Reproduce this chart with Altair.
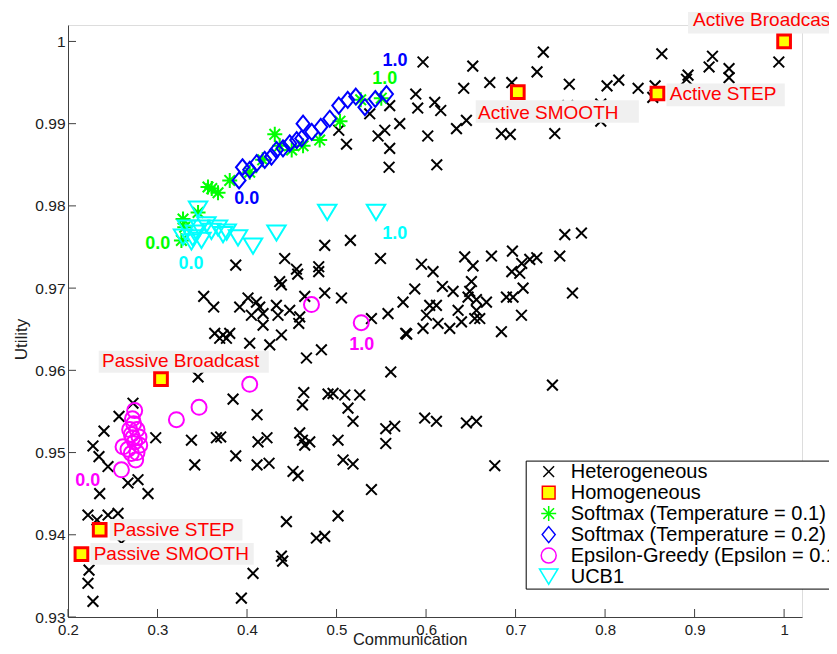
import altair as alt
import pandas as pd

SERIES = ["Heterogeneous", "Homogeneous", "Softmax (Temperature = 0.1)",
          "Softmax (Temperature = 0.2)", "Epsilon-Greedy (Epsilon = 0.1)", "UCB1"]

# ---------------- data ----------------
het_x = [0.5966, 0.6522, 0.7310, 0.7240, 0.6712, 0.6958, 0.6421, 0.7600, 0.8022, 0.8153,
         0.8369, 0.8559, 0.8634, 0.8927, 0.8910, 0.9200, 0.9162, 0.9385, 0.9385, 0.9941,
         0.6097, 0.6164, 0.6451, 0.6340, 0.6019, 0.6842, 0.6941, 0.7438, 0.6120, 0.5885,
         0.5907, 0.5594, 0.5371, 0.5706, 0.5539, 0.5464, 0.5594, 0.5587, 0.5111, 0.5025,
         0.7583, 0.7952, 0.7952, 0.8533,
         0.4868, 0.3874, 0.4421, 0.4552, 0.4566, 0.4801, 0.4801, 0.4365, 0.4384, 0.3516,
         0.4645, 0.4868, 0.4011, 0.4105, 0.3628, 0.3918, 0.4142, 0.4328, 0.4477, 0.4049,
         0.4179, 0.4346, 0.4589, 0.4179, 0.4578, 0.3639, 0.3732, 0.3807, 0.4384, 0.3695,
         0.3770, 0.4030, 0.4254, 0.4831, 0.4664,
         0.3453, 0.3844, 0.4112, 0.4634, 0.4619, 0.4905, 0.2570, 0.2726, 0.2402, 0.2279,
         0.2346, 0.2447, 0.2980, 0.3379, 0.3658, 0.3706, 0.3874, 0.3416, 0.4112, 0.4123,
         0.4223, 0.4246, 0.4589, 0.4619, 0.4645, 0.4701, 0.4514, 0.4570, 0.2670, 0.2782,
         0.2354, 0.2894, 0.2223, 0.2324, 0.2447, 0.2559, 0.4440, 0.4775, 0.4868, 0.2597,
         0.2235, 0.2223, 0.2279, 0.4067, 0.4384, 0.4399, 0.3937,
         0.5155, 0.5491, 0.5949, 0.6078, 0.6432, 0.6525, 0.6731, 0.6965, 0.7159, 0.7237,
         0.7069, 0.6958, 0.7047, 0.7494, 0.7550, 0.7736, 0.7636, 0.7084, 0.6972, 0.6898,
         0.7066, 0.6842, 0.6507, 0.6488, 0.6469, 0.6183, 0.6302, 0.5874, 0.5743, 0.5575,
         0.5390, 0.6041, 0.6116, 0.6005, 0.6134, 0.5966, 0.5773, 0.5784, 0.6265, 0.6396,
         0.6358, 0.6563, 0.6675, 0.6563, 0.6600, 0.6544, 0.5055, 0.5606, 0.7412, 0.4961,
         0.5092, 0.5259, 0.5128, 0.5184, 0.5550, 0.5650, 0.5985, 0.6116, 0.6451, 0.6563,
         0.5017, 0.5550, 0.5073, 0.5184, 0.5390, 0.5017, 0.6768]
het_y = [0.9975, 0.9970, 0.9987, 0.9963, 0.9950, 0.9950, 0.9943, 0.9948, 0.9946, 0.9953,
         0.9943, 0.9946, 0.9985, 0.9959, 0.9954, 0.9982, 0.9969, 0.9967, 0.9956, 0.9975,
         0.9926, 0.9916, 0.9904, 0.9894, 0.9885, 0.9888, 0.9887, 0.9888, 0.9850, 0.9936,
         0.9919, 0.9922, 0.9912, 0.9900, 0.9892, 0.9885, 0.9870, 0.9847, 0.9875, 0.9892,
         0.9922, 0.9924, 0.9903, 0.9932,
         0.9752, 0.9728, 0.9736, 0.9723, 0.9717, 0.9726, 0.9720, 0.9708, 0.9704, 0.9690,
         0.9690, 0.9694, 0.9688, 0.9683, 0.9677, 0.9677, 0.9677, 0.9679, 0.9673, 0.9667,
         0.9669, 0.9667, 0.9665, 0.9655, 0.9657, 0.9645, 0.9643, 0.9645, 0.9643, 0.9639,
         0.9639, 0.9633, 0.9631, 0.9625, 0.9615,
         0.9592, 0.9565, 0.9546, 0.9573, 0.9558, 0.9571, 0.9544, 0.9560, 0.9526, 0.9508,
         0.9495, 0.9483, 0.9518, 0.9515, 0.9518, 0.9519, 0.9496, 0.9485, 0.9485, 0.9513,
         0.9518, 0.9487, 0.9524, 0.9515, 0.9509, 0.9513, 0.9477, 0.9472, 0.9463, 0.9467,
         0.9450, 0.9450, 0.9424, 0.9418, 0.9424, 0.9426, 0.9416, 0.9396, 0.9398, 0.9390,
         0.9357, 0.9341, 0.9319, 0.9353, 0.9374, 0.9368, 0.9323,
         0.9758, 0.9736, 0.9729, 0.9720, 0.9738, 0.9727, 0.9739, 0.9745, 0.9735, 0.9737,
         0.9730, 0.9720, 0.9718, 0.9739, 0.9765, 0.9767, 0.9694, 0.9700, 0.9689, 0.9689,
         0.9667, 0.9647, 0.9708, 0.9696, 0.9689, 0.9702, 0.9696, 0.9699, 0.9683, 0.9669,
         0.9663, 0.9679, 0.9679, 0.9667, 0.9657, 0.9651, 0.9645, 0.9644, 0.9651, 0.9659,
         0.9673, 0.9686, 0.9683, 0.9673, 0.9663, 0.9663, 0.9688, 0.9598, 0.9582, 0.9572,
         0.9570, 0.9570, 0.9554, 0.9538, 0.9529, 0.9532, 0.9542, 0.9538, 0.9536, 0.9538,
         0.9515, 0.9511, 0.9491, 0.9486, 0.9455, 0.9423, 0.9484]

hom_x = [1.0, 0.8585, 0.7025, 0.3039, 0.2354, 0.2150]
hom_y = [1.0, 0.99367, 0.99383, 0.95892, 0.94061, 0.93765]

sm1_x = [0.3267, 0.3285, 0.3304, 0.3453, 0.3564, 0.3606, 0.3676, 0.3807, 0.4030, 0.4310,
         0.4365, 0.4626, 0.4812, 0.5039, 0.5270, 0.5500, 0.4175, 0.4499]
sm1_y = [0.9758, 0.9784, 0.9774, 0.9792, 0.9823, 0.9821, 0.9816, 0.9831, 0.9841, 0.9887,
         0.9873, 0.9873, 0.9880, 0.9903, 0.9929, 0.9931, 0.9856, 0.9868]

sm2_x = [0.3911, 0.3949, 0.4030, 0.4108, 0.4198, 0.4273, 0.4329, 0.4402, 0.4477, 0.4555,
         0.4626, 0.4611, 0.4723, 0.4824, 0.4924, 0.5025, 0.5125, 0.5215, 0.5317, 0.5433, 0.5558]
sm2_y = [0.9831, 0.9847, 0.9844, 0.9852, 0.9856, 0.9860, 0.9868, 0.9870, 0.9876, 0.9880,
         0.9900, 0.9882, 0.9890, 0.9896, 0.9906, 0.9922, 0.9929, 0.9933, 0.9920, 0.9930, 0.9936]

eps_x = [0.2745, 0.2720, 0.2734, 0.2689, 0.2771, 0.2708, 0.2793, 0.2723, 0.2745, 0.2615,
         0.2670, 0.2801, 0.2708, 0.2771, 0.2756, 0.2597, 0.3211, 0.3464, 0.4030, 0.4720, 0.5276]
eps_y = [0.9551, 0.9541, 0.9535, 0.9528, 0.9528, 0.9522, 0.9519, 0.9518, 0.9513, 0.9507,
         0.9504, 0.9509, 0.9499, 0.9500, 0.9491, 0.9479, 0.9540, 0.9555, 0.9583, 0.9680, 0.9658]

ucb_x = [0.3453, 0.3285, 0.3379, 0.3393, 0.3472, 0.3491, 0.3546, 0.3602, 0.3676, 0.3732,
         0.3773, 0.3899, 0.4067, 0.4329, 0.4896, 0.5441, 0.3416, 0.3327]
ucb_y = [0.9796, 0.9762, 0.9756, 0.9761, 0.9773, 0.9758, 0.9777, 0.9769, 0.9773, 0.9765,
         0.9768, 0.9761, 0.9751, 0.9767, 0.9792, 0.9792, 0.9767, 0.9773]

ann_text = ["Active Broadcast", "Active SMOOTH", "Active STEP",
            "Passive Broadcast", "Passive STEP", "Passive SMOOTH"]
ann_x = [0.8983, 0.6581, 0.8723, 0.2380, 0.2503, 0.2287]
ann_y = [1.00188, 0.99051, 0.99286, 0.96045, 0.93988, 0.93696]
box_x0 = [0.8927, 0.6555, 0.8686, 0.2343, 0.2466, 0.2250]
box_x1 = [1.0600, 0.8377, 1.0008, 0.4243, 0.3949, 0.4075]
box_y0 = [1.00358, 0.99286, 0.99488, 0.96239, 0.94191, 0.93899]
box_y1 = [1.00096, 0.99010, 0.99213, 0.95972, 0.93931, 0.93636]

par_text = ["0.0", "1.0", "0.0", "1.0", "0.0", "1.0", "0.0", "1.0"]
par_series = [SERIES[2], SERIES[2], SERIES[3], SERIES[3], SERIES[4], SERIES[4], SERIES[5], SERIES[5]]
par_x = [0.3002, 0.5539, 0.3997, 0.5654, 0.2220, 0.5282, 0.3374, 0.5650]
par_y = [0.97539, 0.99541, 0.98085, 0.99768, 0.94660, 0.96303, 0.97293, 0.97657]

x_ticks = [0.2, 0.3, 0.4, 0.5, 0.6, 0.7, 0.8, 0.9, 1.0]
y_ticks = [0.93, 0.94, 0.95, 0.96, 0.97, 0.98, 0.99, 1.0]

# ---------------- styles ----------------
FONT = "Liberation Sans"
STROKES = ["#000000", "#ff0000", "#00ff00", "#0000ff", "#ff00ff", "#00ffff"]
FILLS = ["transparent", "#ffff00", "transparent", "transparent", "transparent", "transparent"]
SHAPES = [
    "M-1.07,-1.07L1.07,1.07M-1.07,1.07L1.07,-1.07",
    "M-1.27,-1.27L1.27,-1.27L1.27,1.27L-1.27,1.27Z",
    "M-1.5,0L1.5,0M0,-1.5L0,1.5M-1.06,-1.06L1.06,1.06M-1.06,1.06L1.06,-1.06",
    "M0,-1.6L1.3,0L0,1.6L-1.3,0Z",
    "M1.5,0C1.5,0.828,0.828,1.5,0,1.5C-0.828,1.5,-1.5,0.828,-1.5,0"
    "C-1.5,-0.828,-0.828,-1.5,0,-1.5C0.828,-1.5,1.5,-0.828,1.5,0Z",
    "M-1.84,-1.52L1.84,-1.52L0,1.52Z",
]
AXIS_COLOR = "#404040"
W, H = 734, 592

pts_rows = []
for name, xs_, ys_ in [(SERIES[0], het_x, het_y), (SERIES[2], sm1_x, sm1_y),
                       (SERIES[3], sm2_x, sm2_y), (SERIES[4], eps_x, eps_y),
                       (SERIES[5], ucb_x, ucb_y)]:
    pts_rows += [{"series": name, "x": a, "y": b} for a, b in zip(xs_, ys_)]
pts = pd.DataFrame(pts_rows)
hom = pd.DataFrame({"series": SERIES[1], "x": hom_x, "y": hom_y})
ann = pd.DataFrame({"t": ann_text, "x": ann_x, "y": ann_y})
boxes = pd.DataFrame({"x0": box_x0, "x1": box_x1, "y0": box_y0, "y1": box_y1})
par = pd.DataFrame({"t": par_text, "series": par_series, "x": par_x, "y": par_y})
xt = pd.DataFrame({"v": x_ticks})
yt = pd.DataFrame({"v": y_ticks})

xs = alt.Scale(domain=[0.2, 1.02], nice=False, zero=False)
ys = alt.Scale(domain=[0.93, 1.002], nice=False, zero=False)

x_axis = alt.Axis(orient="bottom", values=x_ticks, format="~g", ticks=False, tickSize=0,
                  labelPadding=5, labelFontSize=15, labelFont=FONT, labelColor="#202020",
                  labelFlush=False, labelOverlap=False, domainColor=AXIS_COLOR, domainWidth=1,
                  grid=False, title="Communication", titleFont=FONT, titleFontSize=16.5,
                  titleFontWeight="normal", titleColor="#202020", titleX=341.7, titleY=27.7,
                  titleBaseline="alphabetic", titleAlign="center")
y_axis = alt.Axis(orient="left", values=y_ticks, format="~g", ticks=False, tickSize=0,
                  labelPadding=3, labelFontSize=15.5, labelFont=FONT, labelColor="#202020",
                  labelFlush=False, labelOverlap=False, domainColor=AXIS_COLOR, domainWidth=1,
                  grid=False, title="Utility", titleFont=FONT, titleFontSize=17,
                  titleFontWeight="normal", titleColor="#202020", titleX=-41.6, titleY=314,
                  titleAngle=270, titleBaseline="alphabetic", titleAlign="center")

leg = alt.Legend(orient="none", legendX=457.7, legendY=435.6, direction="vertical", title=None,
                 labelFontSize=20, labelFont=FONT, labelColor="#000000", labelLimit=800,
                 strokeColor="#000000", fillColor="#ffffff", padding=1, rowPadding=-1.2,
                 gridAlign="all", symbolOffset=12, labelOffset=12, symbolStrokeWidth=1.5,
                 symbolSize=100)

def series_enc(axis_x, axis_y):
    return dict(
        x=alt.X("x:Q", scale=xs, axis=axis_x),
        y=alt.Y("y:Q", scale=ys, axis=axis_y),
        shape=alt.Shape("series:N", scale=alt.Scale(domain=SERIES, range=SHAPES), legend=leg),
        stroke=alt.Stroke("series:N", scale=alt.Scale(domain=SERIES, range=STROKES), legend=leg),
        fill=alt.Fill("series:N", scale=alt.Scale(domain=SERIES, range=FILLS), legend=leg),
    )

points = alt.Chart(pts).mark_point(size=100, strokeWidth=2, opacity=1).encode(
    **series_enc(x_axis, y_axis))

# inward-pointing tick marks at the axis tick values
x_tick_layer = alt.Chart(xt).mark_rule(color=AXIS_COLOR, strokeWidth=1).encode(
    x=alt.X("v:Q", scale=xs, axis=None), y=alt.value(H), y2=alt.value(H - 8))
y_tick_layer = alt.Chart(yt).mark_rule(color=AXIS_COLOR, strokeWidth=1).encode(
    y=alt.Y("v:Q", scale=ys, axis=None), x=alt.value(0), x2=alt.value(8))

box_layer = alt.Chart(boxes).mark_rect(fill="#f0f0f0").encode(
    x=alt.X("x0:Q", scale=xs, axis=None), x2="x1:Q",
    y=alt.Y("y0:Q", scale=ys, axis=None), y2="y1:Q")

ann_layer = alt.Chart(ann).mark_text(color="#ff0000", align="left", baseline="alphabetic",
                                     fontSize=19, font=FONT).encode(
    x=alt.X("x:Q", scale=xs, axis=None), y=alt.Y("y:Q", scale=ys, axis=None), text="t:N")

par_layer = alt.Chart(par).mark_text(align="center", baseline="middle", fontSize=18,
                                     fontWeight="bold", font=FONT).encode(
    x=alt.X("x:Q", scale=xs, axis=None), y=alt.Y("y:Q", scale=ys, axis=None),
    text="t:N",
    color=alt.Color("series:N", scale=alt.Scale(domain=SERIES, range=STROKES), legend=None))

squares = alt.Chart(hom).mark_point(size=100, strokeWidth=3, opacity=1).encode(
    **series_enc(None, None))

chart = alt.layer(points, x_tick_layer, y_tick_layer, box_layer, ann_layer, par_layer, squares
).resolve_axis(x="independent", y="independent").properties(
    width=W, height=H, autosize=alt.AutoSizeParams(type="none"),
    padding={"left": 60, "top": 17, "right": 27, "bottom": 29}
).configure_view(stroke="transparent", strokeWidth=0).configure(font=FONT)

chart.save("out.html", embed_options={"renderer": "svg", "actions": False})
